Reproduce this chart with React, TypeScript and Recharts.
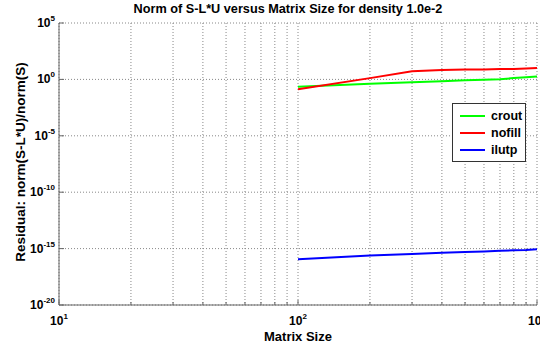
import React from "react"
import { CartesianGrid, Line, LineChart, XAxis, YAxis } from "recharts"

const sizes = [100, 200, 300, 400, 500, 600, 700, 800, 900, 1000]
const crout = [0.22, 0.41, 0.55, 0.7, 0.82, 0.92, 1.05, 1.3, 1.55, 1.85]
const nofill = [0.135, 1.3, 5.3, 6.9, 7.4, 7.7, 8.2, 8.5, 9.4, 10.5]
const ilutp = [1.15e-16, 2.4e-16, 3.4e-16, 4.2e-16, 4.9e-16, 5.6e-16, 6.3e-16, 7.0e-16, 7.7e-16, 8.9e-16]

const xTicks = [10, 20, 30, 40, 50, 60, 70, 80, 90, 100, 200, 300, 400, 500, 600, 700, 800, 900, 1000]
const yTicks = [1e-20, 1e-15, 1e-10, 1e-5, 1, 1e5]

const series = [
  { key: "crout", color: "#00ff00" },
  { key: "nofill", color: "#ff0000" },
  { key: "ilutp", color: "#0000ff" },
]

const data = sizes.map((n, i) => ({ n, crout: crout[i], nofill: nofill[i], ilutp: ilutp[i] }))

const font = "'Liberation Sans', Arial, sans-serif"

const isDecade = (v: number) => Math.abs(Math.log10(v) - Math.round(Math.log10(v))) < 1e-9

// MATLAB style: ticks point inward, labels only at decades
function XTick({ x, y, payload }: any) {
  const major = isDecade(payload.value)
  const e = Math.round(Math.log10(payload.value))
  return (
    <g>
      <line x1={x} x2={x} y1={y} y2={y - (major ? 5 : 3)} stroke="#666" />
      {major && (
        <text x={x} y={y + 20} textAnchor="middle" fontFamily={font} fontWeight="bold" fontSize={12} fill="#000">
          10<tspan dy={-6} fontSize={8}>{e}</tspan>
        </text>
      )}
    </g>
  )
}

function YTick({ x, y, payload }: any) {
  const e = Math.round(Math.log10(payload.value))
  return (
    <g>
      <line x1={x} x2={x + 5} y1={y} y2={y} stroke="#666" />
      <text x={x - 4} y={y + 4} textAnchor="end" fontFamily={font} fontWeight="bold" fontSize={12} fill="#000">
        10<tspan dy={-6} fontSize={8}>{e}</tspan>
      </text>
    </g>
  )
}

function LegendBox() {
  return (
    <div
      style={{
        position: "absolute",
        left: 452,
        top: 103,
        width: 72,
        border: "1px solid #333",
        background: "#fff",
        padding: "3px 0",
        fontFamily: font,
      }}
    >
      {series.map((s) => (
        <div key={s.key} style={{ display: "flex", alignItems: "center", height: 17 }}>
          <div style={{ width: 25, height: 2, background: s.color, marginLeft: 7, marginRight: 6 }} />
          <span style={{ fontWeight: "bold", fontSize: 12.5 }}>{s.key}</span>
        </div>
      ))}
    </div>
  )
}

export default function App() {
  return (
    <div style={{ position: "absolute", left: 0, top: 0, width: 540, height: 347, overflow: "hidden", background: "#fff" }}>
      <LineChart width={560} height={347} data={data} margin={{ top: 23, right: 23, left: 0, bottom: 0 }}>
        <CartesianGrid stroke="#888" strokeDasharray="1 2" />
        <XAxis
          dataKey="n"
          type="number"
          scale="log"
          domain={[10, 1000]}
          ticks={xTicks}
          interval={0}
          allowDataOverflow
          height={42}
          stroke="#666"
          tickLine={false}
          tickSize={0}
          tickMargin={0}
          tick={<XTick />}
        />
        <XAxis xAxisId="top" orientation="top" height={0} stroke="#666" tick={false} tickLine={false} />
        <YAxis
          type="number"
          scale="log"
          domain={[1e-20, 1e5]}
          ticks={yTicks}
          interval={0}
          allowDataOverflow
          width={59}
          stroke="#666"
          tickLine={false}
          tickSize={0}
          tickMargin={0}
          tick={<YTick />}
        />
        <YAxis yAxisId="right" orientation="right" width={0} stroke="#666" tick={false} tickLine={false} />
        {series.map((s) => (
          <Line
            key={s.key}
            dataKey={s.key}
            stroke={s.color}
            strokeWidth={2}
            dot={false}
            isAnimationActive={false}
          />
        ))}
      </LineChart>
      <div style={{ position: "absolute", left: 0, top: 2, width: 576, textAlign: "center", fontFamily: font, fontWeight: "bold", fontSize: 12.7 }}>
        Norm of S-L*U versus Matrix Size for density 1.0e-2
      </div>
      <div style={{ position: "absolute", left: 0, top: 329, width: 596, textAlign: "center", fontFamily: font, fontWeight: "bold", fontSize: 13 }}>
        Matrix Size
      </div>
      <div
        style={{
          position: "absolute",
          left: 20,
          top: 162,
          transform: "translate(-50%, -50%) rotate(-90deg)",
          whiteSpace: "nowrap",
          fontFamily: font,
          fontWeight: "bold",
          fontSize: 13.5,
        }}
      >
        Residual: norm(S-L*U)/norm(S)
      </div>
      <LegendBox />
    </div>
  )
}
